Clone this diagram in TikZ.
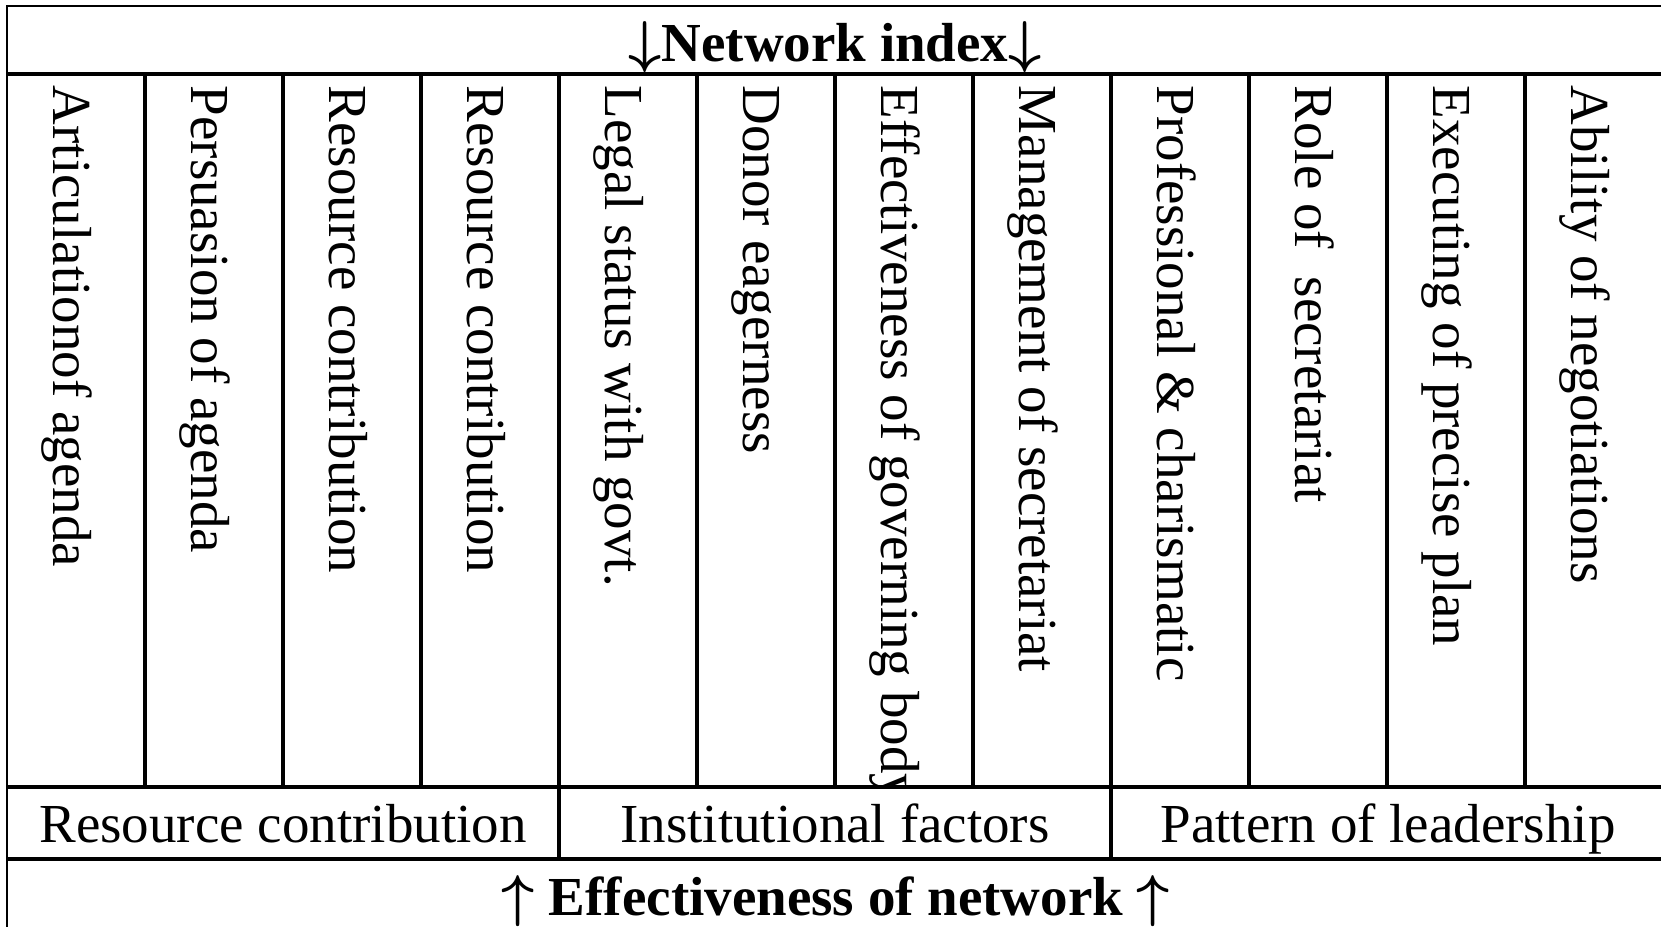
\documentclass[tikz,border=0pt]{standalone}
\usepackage{fontspec}
\setmainfont{Liberation Serif}

\tikzset{
  outerrule/.style={line width=0.5pt},
  innerrule/.style={line width=0.95pt},
  vlabel/.style={rotate=-90, anchor=base west, inner sep=0pt,
    font=\fontsize{13.75}{16}\selectfont},
  grouplabel/.style={anchor=base, inner sep=0pt,
    font=\fontsize{13.75}{16}\selectfont},
  titlelabel/.style={anchor=base, inner sep=0pt,
    font=\fontsize{13.75}{16}\selectfont\bfseries\boldmath}
}

\begin{document}
\begin{tikzpicture}[x=0.25pt, y=-0.25pt]
        \clip (0,0) rectangle (1661,927);
        % frame
        \draw[outerrule] (7,927) -- (7,6) -- (1670,6);
        \draw[innerrule] (7,74) -- (1670,74);
        \draw[innerrule] (7,787) -- (1670,787);
        \draw[innerrule] (7,859) -- (1670,859);
        \foreach \i in {1,...,11}
          \draw[innerrule] ({7+138*\i},74) -- ({7+138*\i},787);
        \draw[innerrule] (559,787) -- (559,859);
        \draw[innerrule] (1111,787) -- (1111,859);
        % titles
        \node[titlelabel] (netindex) at (835,62) {$\downarrow$Network index$\downarrow$};
        \node[titlelabel] (effnet) at (836,916) {$\uparrow$ Effectiveness of network $\uparrow$};
        % factor columns
        \begin{scope}
          \clip (7,74) rectangle (1670,787);
          \foreach \t [count=\i] in {Articulationof agenda, Persuasion of agenda,
              Resource contribution, Resource contribution, Legal status with govt.,
              Donor eagerness, Effectiveness of governing body,
              Management of secretariat, Professional \& charismatic,
              Role of~ secretariat, Executing of precise plan,
              Ability of negotiations}
            \node[vlabel] (col\i) at ({7+138*(\i-1)+46.5},85) {\t};
        \end{scope}
        % groups
        \node[grouplabel] (resgroup) at (283,843) {Resource contribution};
        \node[grouplabel] (instgroup) at (835,843) {Institutional factors};
        \node[grouplabel] (leadgroup) at (1388,843) {Pattern of leadership};
\end{tikzpicture}
\end{document}
